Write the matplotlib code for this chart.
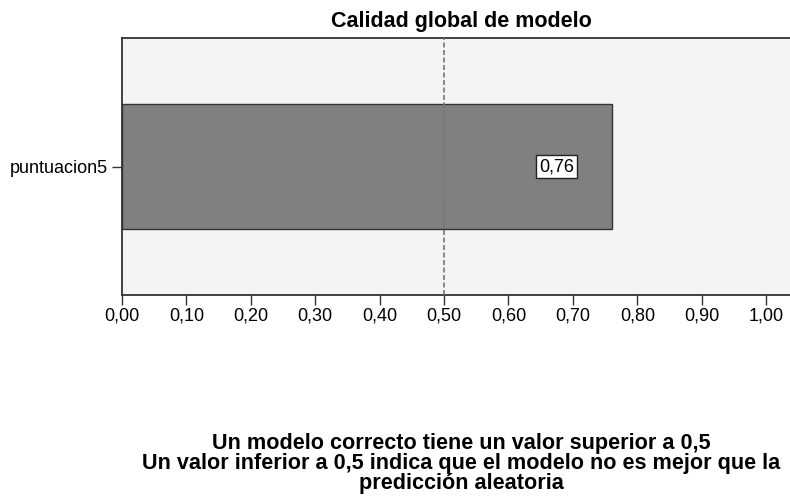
import matplotlib.pyplot as plt

# data
categories = ["puntuacion5"]
values = [0.76]
value_labels = ["0,76"]
threshold = 0.5
xticks = [0.0, 0.1, 0.2, 0.3, 0.4, 0.5, 0.6, 0.7, 0.8, 0.9, 1.0]
xtick_labels = ["0,00", "0,10", "0,20", "0,30", "0,40", "0,50",
                "0,60", "0,70", "0,80", "0,90", "1,00"]
title = "Calidad global de modelo"
footnote_lines = [
    "Un modelo correcto tiene un valor superior a 0,5",
    "Un valor inferior a 0,5 indica que el modelo no es mejor que la",
    "predicción aleatoria",
]

plt.rcParams["font.family"] = ["Liberation Sans", "DejaVu Sans"]

fig = plt.figure(figsize=(7.9, 5), dpi=100)
ax = fig.add_axes([122 / 790, 1 - 295 / 500, 668 / 790, 257 / 500])
ax.set_facecolor("#f4f4f4")

ypos = list(range(len(categories)))
ax.barh(ypos, values, height=0.486, color="#808080", edgecolor="#333333",
        linewidth=1.0, zorder=2)
ax.axvline(threshold, color="#777777", linestyle=(0, (3, 1.5)),
           linewidth=1.2, zorder=3)

for y, v, lab in zip(ypos, values, value_labels):
    ax.annotate(lab, xy=(v, y), xytext=(-27, 0), textcoords="offset points",
                ha="right", va="center", fontsize=13, zorder=4,
                bbox=dict(boxstyle="square,pad=0.18", fc="white",
                          ec="#222222", lw=1.0))

ax.set_xlim(0, 1.037)
ax.set_ylim(-0.5, 0.5)
ax.set_yticks(ypos)
ax.set_yticklabels(categories, fontsize=13)
ax.set_xticks(xticks)
ax.set_xticklabels(xtick_labels, fontsize=13)
ax.tick_params(axis="both", length=7.5, width=1, color="#333333")
ax.tick_params(axis="x", pad=1.5)
ax.tick_params(axis="y", pad=2.5)
for s in ["left", "bottom", "top"]:
    ax.spines[s].set_color("#333333")
    ax.spines[s].set_linewidth(1.3)
ax.spines["right"].set_visible(False)

fig.text(461 / 790, 1 - 27 / 500, title, ha="center", va="baseline",
         fontsize=15.5, fontweight="bold")
for i, line in enumerate(footnote_lines):
    fig.text(461 / 790, 1 - (449 + 20 * i) / 500, line, ha="center",
             va="baseline", fontsize=15.6, fontweight="bold")

fig.savefig("out.png", dpi=100)
